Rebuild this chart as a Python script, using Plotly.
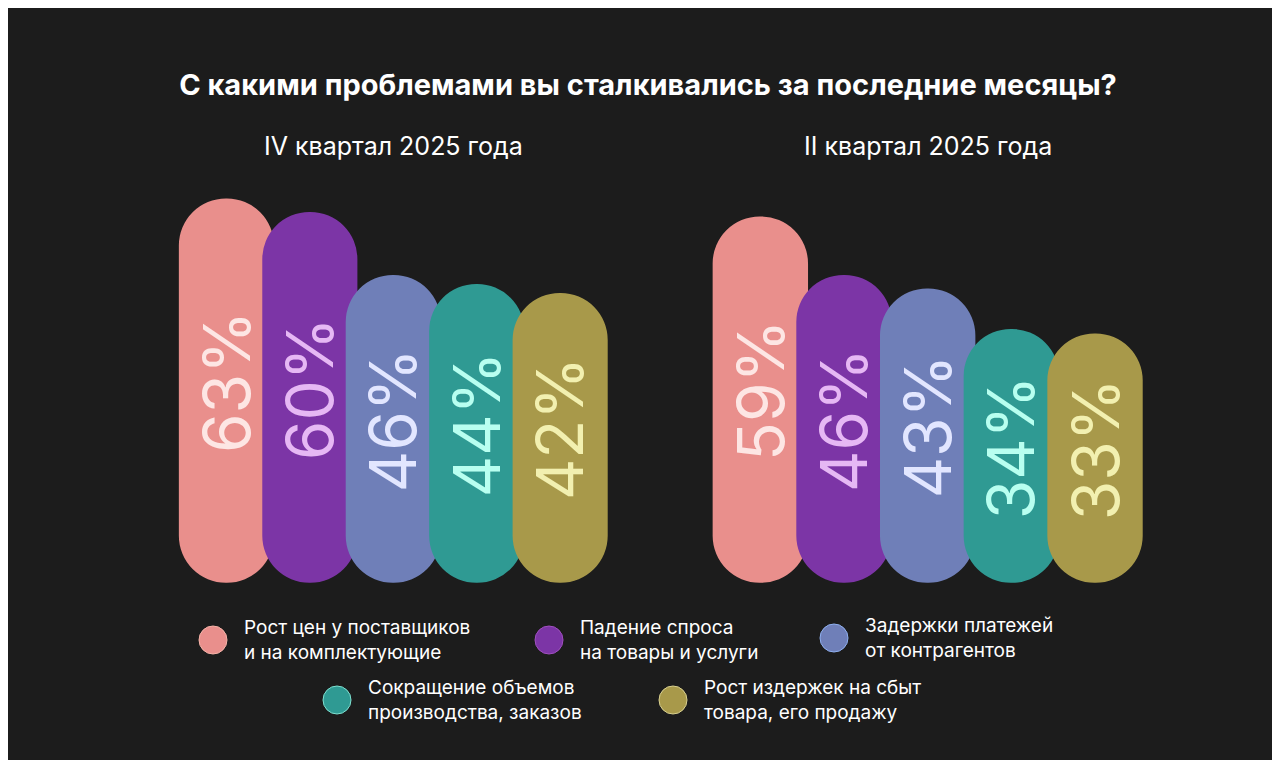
import plotly.graph_objects as go

title = "С какими проблемами вы сталкивались за последние месяцы?"
periods = ["IV квартал 2025 года", "II квартал 2025 года"]
categories = ["Рост цен у поставщиков<br>и на комплектующие",
              "Падение спроса<br>на товары и услуги",
              "Задержки платежей<br>от контрагентов",
              "Сокращение объемов<br>производства, заказов",
              "Рост издержек на сбыт<br>товара, его продажу"]
values_q4 = [63, 60, 46, 44, 42]
values_q2 = [59, 46, 43, 34, 33]
colors = ["#e98f8c", "#7c35a6", "#6f7fb8", "#2f9a93", "#a8994a"]
edge = ["#f6b3a8", "#a04fc0", "#8fb0f0", "#7fe0d0", "#d8d090"]
text_col = ["#fde6e4", "#e6b8f4", "#e2e6ff", "#b8fff0", "#f2f0b0"]

BASE = -22.4
fig = go.Figure()
doms = [[0.125, 0.477], [0.542, 0.895]]
for g, vals in enumerate([values_q4, values_q2]):
    xa = "x" if g == 0 else "x2"
    ya = "y" if g == 0 else "y2"
    for i, v in enumerate(vals):
        fig.add_trace(go.Bar(x=[i], y=[v - BASE], base=BASE, width=1.14, xaxis=xa, yaxis=ya,
                             marker=dict(color=colors[i], line=dict(width=0)),
                             showlegend=False, hoverinfo="skip"))
        fig.add_annotation(x=i, y=(v + BASE) / 2 + 2, xref=xa, yref=ya, text=f"{v}%",
                           textangle=-90, showarrow=False,
                           font=dict(size=64, color=text_col[i], family="Inter"))
    fig.add_annotation(x=sum(doms[g]) / 2, y=1 - 138 / 760, xref="paper", yref="paper",
                       xanchor="center", yanchor="middle",
                       text=periods[g], showarrow=False,
                       font=dict(size=25, color="white", family="Inter"))

fig.update_layout(
    width=1280, height=760, margin=dict(l=0, r=0, t=0, b=0),
    paper_bgcolor="#1c1c1c", plot_bgcolor="rgba(0,0,0,0)", barmode="overlay",
    barcornerradius="50%",
    title=dict(text="<b>" + title + "</b>", x=0.5, y=1 - 77 / 760, xanchor="center", yanchor="middle",
               font=dict(size=29, color="white", family="Inter")),
    xaxis=dict(domain=doms[0], range=[-0.7, 4.7], visible=False),
    xaxis2=dict(domain=doms[1], range=[-0.7, 4.7], visible=False),
    yaxis=dict(domain=[0.23, 0.763], range=[-24.7, 65.3], visible=False),
    yaxis2=dict(domain=[0.23, 0.763], range=[-24.7, 65.3], visible=False, anchor="x2"),
)

leg_pos = [(205, 632), (541, 632), (826, 630), (329, 692), (665, 692)]
for i, (px, py) in enumerate(leg_pos):
    fig.add_shape(type="circle", xref="paper", yref="paper",
                  x0=(px - 14) / 1280, x1=(px + 14) / 1280, y0=1 - (py + 14) / 760, y1=1 - (py - 14) / 760,
                  fillcolor=colors[i], line=dict(color=edge[i], width=1))
    fig.add_annotation(x=(px + 29) / 1280, y=1 - py / 760, xref="paper", yref="paper",
                       text=categories[i], showarrow=False, xanchor="left", yanchor="middle",
                       align="left", font=dict(size=19, color="white", family="Inter"))

fig.write_html("out.html")
